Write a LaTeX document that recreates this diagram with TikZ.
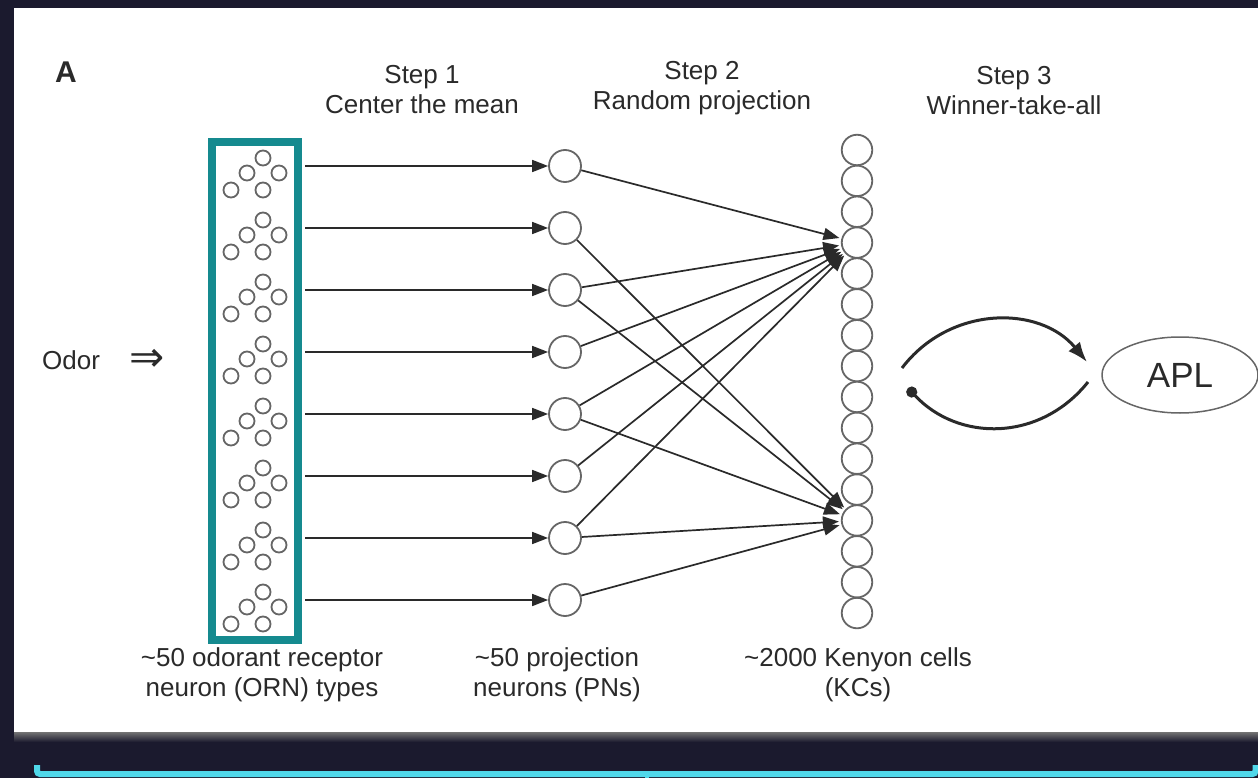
\documentclass[tikz,border=0pt]{standalone}
\usepackage{fontspec}
\setmainfont{Liberation Sans}
\newfontfamily\arrowglyphs{DejaVu Sans}
\usetikzlibrary{arrows.meta,shapes.geometric}
\definecolor{bgnavy}{HTML}{1B1A2E}
\definecolor{tealframe}{HTML}{158A8F}
\definecolor{cyanbar}{HTML}{50D8EA}
\definecolor{ink}{HTML}{2A2A2A}
\definecolor{cellline}{HTML}{666666}
\begin{document}
\begin{tikzpicture}[x=1pt,y=-1pt,
  lbl/.style={font=\fontsize{26}{30}\selectfont, text=ink, align=center, inner sep=0pt},
  orncell/.style={circle, draw=cellline, line width=1.8pt, minimum size=15pt, inner sep=0pt},
  pncell/.style={circle, draw=cellline, line width=1.8pt, minimum size=32pt, inner sep=0pt},
  kccell/.style={circle, draw=cellline, line width=1.8pt, minimum size=30.5pt, inner sep=0pt},
  feed/.style={draw=ink, line width=1.7pt, -{Triangle[length=16pt,width=12pt]}},
  loop/.style={draw=ink, line width=3pt}
]
% background, panel and its shadow
\fill[bgnavy] (0,0) rectangle (1258,778);
\shade[top color=black!55, bottom color=bgnavy] (14,732) rectangle (1258,742);
\fill[white] (14,8) rectangle (1258,732);
\useasboundingbox (0,0) rectangle (1258,778);

% bracket bar under the panel
\draw[cyanbar, line width=6pt, rounded corners=3pt] (37,765) -- (37,774) -- (1255.5,774) -- (1255.5,765);
\draw[cyanbar, line width=4pt] (647,774) -- (647,778);

% panel letter and step titles
\node[font=\fontsize{30}{30}\selectfont\bfseries, text=ink] (panelA) at (66,72) {A};
\node[lbl] (step1) at (422,90) {Step 1\\Center the mean};
\node[lbl] (step2) at (702,88) {Step 2\\Random projection};
\node[lbl] (step3) at (1014,91) {Step 3\\Winner-take-all};

% odor input
\node[lbl, anchor=west] (odor) at (42,360) {Odor};
\node[text=ink, inner sep=0pt] (odorarrow) at (147,360) {\arrowglyphs\fontsize{42}{42}\selectfont ⇒};

% ORN frame
\draw[tealframe, line width=8pt] (212,142) rectangle (298,640);

% ORN clusters, projection neurons and their links
\foreach \k in {1,...,8} {
  \pgfmathsetmacro\yy{166+62*(\k-1)}
  \node[orncell] (orn\k a) at (263,\yy-8) {};
  \node[orncell] (orn\k b) at (247,\yy+7) {};
  \node[orncell] (orn\k c) at (279,\yy+7) {};
  \node[orncell] (orn\k d) at (231,\yy+24) {};
  \node[orncell] (orn\k e) at (263,\yy+24) {};
  \coordinate (ornout\k) at (305,\yy);
  \node[pncell] (pn\k) at (565,\yy) {};
  \draw[feed] (ornout\k) -- (pn\k);
}

% Kenyon cell column
\foreach \j in {0,...,15} {
  \node[kccell] (kc\j) at (857,{150+30.87*\j}) {};
}

% random projection PN -> KC
\foreach \p/\c in {1/3,3/3,4/3,5/3,6/3,7/3,2/12,3/12,5/12,7/12,8/12} {
  \draw[feed, shorten >=2pt] (pn\p) -- (kc\c);
}

% winner-take-all loop with APL
\node[ellipse, draw=cellline, line width=1.5pt, minimum width=156pt, minimum height=76pt,
      inner sep=0pt, font=\fontsize{35}{35}\selectfont, text=ink] (apl) at (1180,375) {APL};
\coordinate (wtaout) at (902,368);
\coordinate (aplin) at (1087,362);
\coordinate (aplout) at (1088,382);
\coordinate (wtain) at (908,388);
\draw[loop, -{Latex[length=20pt,width=15pt]}] (wtaout) .. controls (950,305) and (1040,305) .. (aplin);
\draw[loop, {Circle[length=11pt]}-] (wtain) .. controls (958,442) and (1040,442) .. (aplout);

% population labels
\node[lbl] (ornlbl) at (262,675) {\textasciitilde50 odorant receptor\\neuron (ORN) types};
\node[lbl] (pnlbl) at (557,675) {\textasciitilde50 projection\\neurons (PNs)};
\node[lbl] (kclbl) at (858,675) {\textasciitilde2000 Kenyon cells\\(KCs)};
\end{tikzpicture}
\end{document}
